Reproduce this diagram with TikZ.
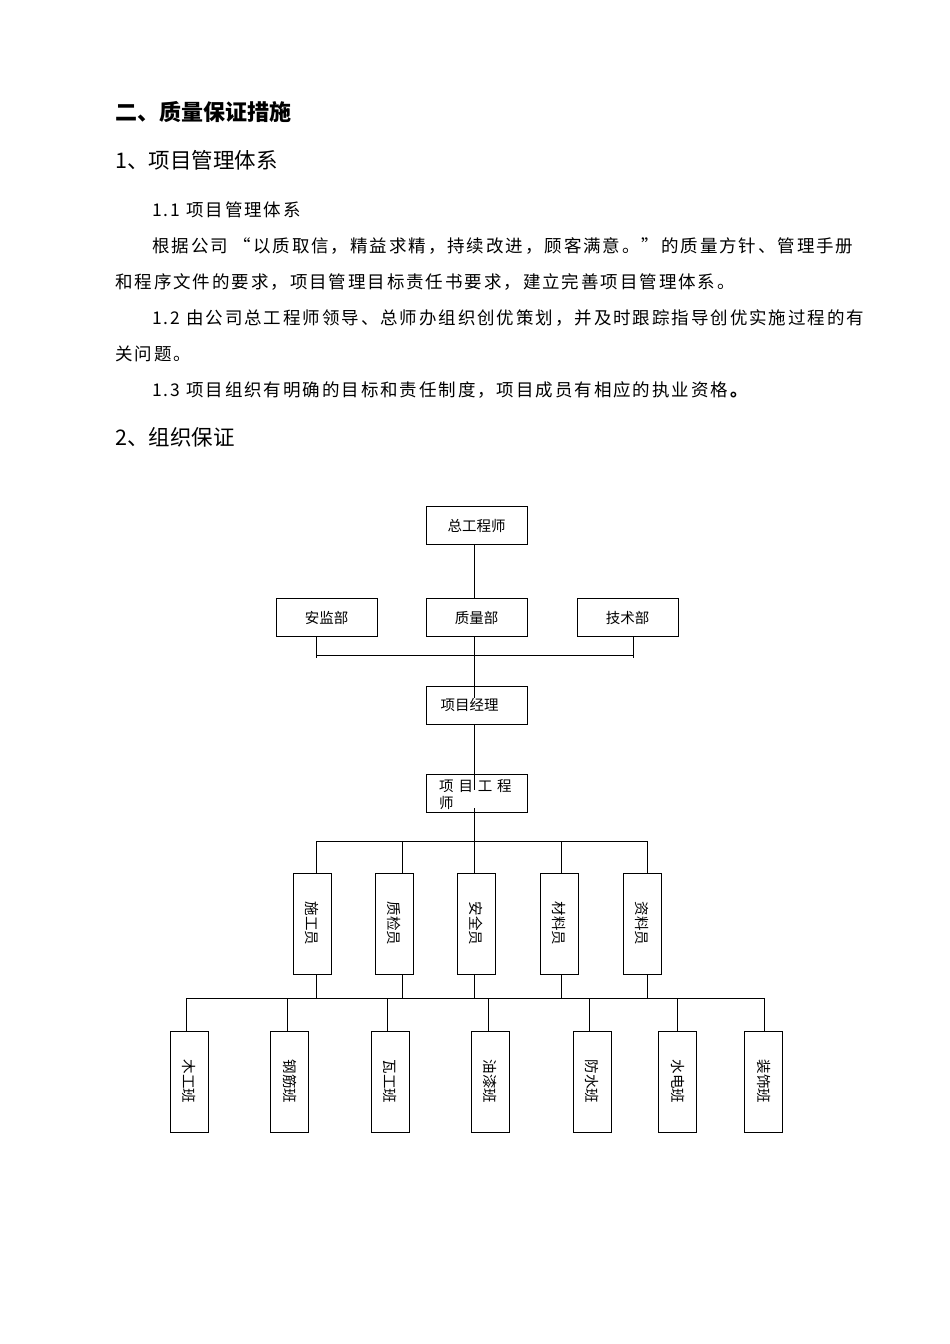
\documentclass[tikz,border=0pt]{standalone}
\usepackage{fontspec}
\setmainfont{Liberation Sans}
\newfontfamily\cjk{Noto Sans CJK SC}
\newfontfamily\cjkp[LetterSpace=11]{Noto Sans CJK SC}
\begin{document}
\begin{tikzpicture}[x=1pt,y=-1pt,
  box/.style={draw,line width=0.9pt,minimum width=101pt,minimum height=38pt,inner sep=0pt,font=\cjk\fontsize{14.5}{16}\selectfont},
  vbox/.style={draw,line width=0.9pt,minimum width=38pt,minimum height=101pt,inner sep=0pt},
  vt/.style={rotate=-90,font=\cjk\fontsize{14.5}{16}\selectfont},
  ln/.style={line width=0.9pt},
  txt/.style={anchor=west,inner sep=0pt,font=\cjkp\fontsize{17.5}{20}\selectfont},
  hd/.style={anchor=west,inner sep=0pt,font=\cjk\bfseries\fontsize{22}{26}\selectfont}]
\fill[white] (0,0) rectangle (950,1344);
\useasboundingbox (0,0) rectangle (950,1344);
\node[hd] (h1) at (115,112) {二、质量保证措施};
\node[hd,font=\cjk\fontsize{21.5}{26}\selectfont] (h2) at (115,160) {1、项目管理体系};
\node[txt] (p1) at (152,210) {1.1 项目管理体系};
\node[txt] (p2) at (152,246) {根据公司 “以质取信，精益求精，持续改进，顾客满意。”的质量方针、管理手册};
\node[txt] (p3) at (115,282) {和程序文件的要求，项目管理目标责任书要求，建立完善项目管理体系。};
\node[txt] (p4) at (152,318) {1.2 由公司总工程师领导、总师办组织创优策划，并及时跟踪指导创优实施过程的有};
\node[txt] (p5) at (115,354) {关问题。};
\node[txt] (p6) at (152,390) {1.3 项目组织有明确的目标和责任制度，项目成员有相应的执业资格\textbf{。}};
\node[hd,font=\cjk\fontsize{21.5}{26}\selectfont] (h3) at (115,437) {2、组织保证};

\node[box] (zg) at (476.5,525.5) {总工程师};
\node[box] (aj) at (326.5,617.5) {安监部};
\node[box] (zl) at (476.5,617.5) {质量部};
\node[box] (js) at (627.5,617.5) {技术部};
\node[box] (jl) at (476.5,705) {\hspace*{-14pt}项目经理};
\node[box] (gc) at (476.5,793) {};
\begin{scope}
\clip (gc.south west) rectangle (gc.north east);
\node[anchor=north west,inner sep=0pt,font=\cjk\fontsize{14.5}{17}\selectfont,align=left] at (439,779) {项\,\,目\,\,工\,\,程\\师};
\end{scope}

\coordinate (tl) at (316,655); \coordinate (tr) at (633,655);
\draw[ln] (474,545) -- (474,599);
\draw[ln] (474,636) -- (474,698);
\draw[ln] (474,724) -- (474,790);
\draw[ln] (474,808) -- (474,841);
\draw[ln] (316,636) -- (tl) -- (tr) -- (633,636);
\draw[ln] (tl) -- ++(0,3); \draw[ln] (tr) -- ++(0,3);

\draw[ln] (316,841) -- (647,841);
\foreach \n/\x/\lx/\t in {a/312/316/施工员,b/394.5/402/质检员,c/476.5/474/安全员,d/559/561/材料员,e/642/647/资料员}{
  \node[vbox] (m\n) at (\x,923.5) {};
  \node[vt] at (m\n) {\t};
  \draw[ln] (\lx,841) -- (\lx,873);
  \draw[ln] (\lx,974) -- (\lx,998);
}
\draw[ln] (186,998) -- (764,998);
\foreach \n/\x/\lx/\t in {a/189.5/186/木工班,b/289.5/287/钢筋班,c/390/387/瓦工班,d/490.5/488/油漆班,e/592/589/防水班,f/677.5/677/水电班,g/763.5/764/装饰班}{
  \node[vbox] (b\n) at (\x,1081.5) {};
  \node[vt] at (b\n) {\t};
  \draw[ln] (\lx,998) -- (\lx,1031);
}
\end{tikzpicture}
\end{document}
